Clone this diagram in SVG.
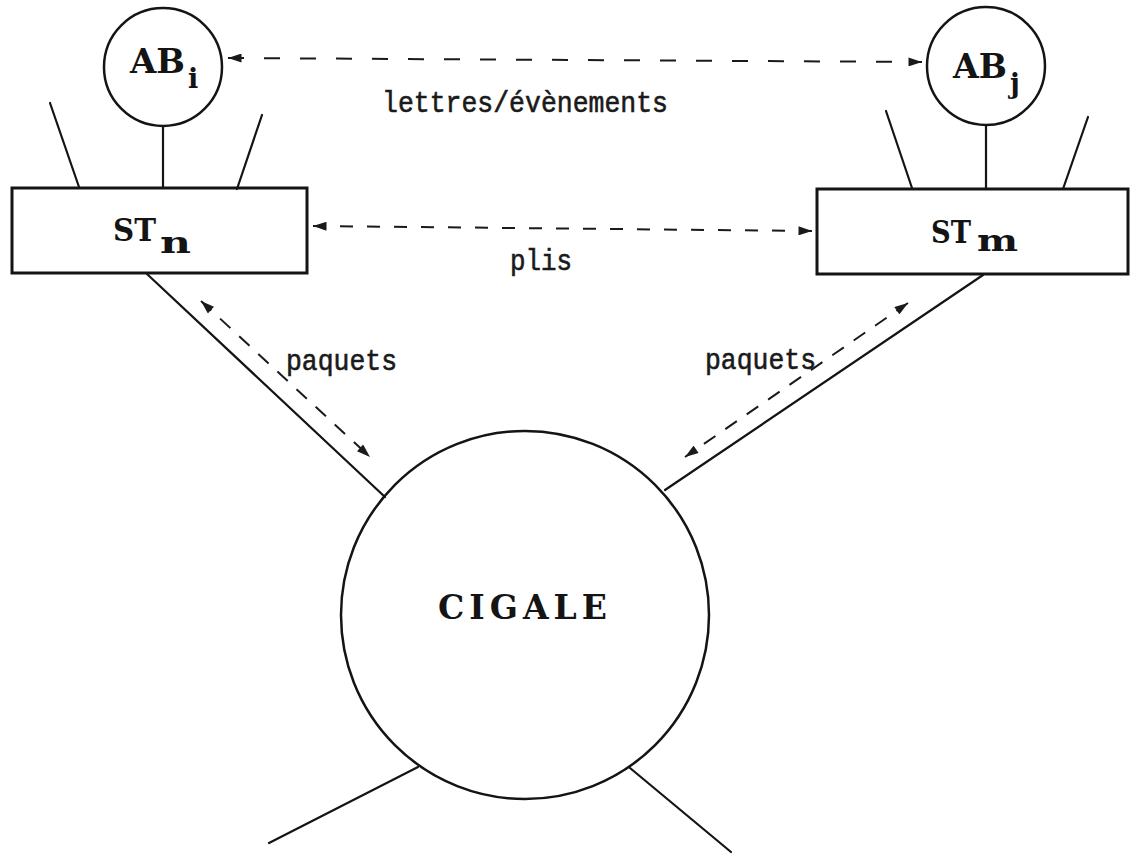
<svg xmlns="http://www.w3.org/2000/svg" width="1131" height="858" viewBox="0 0 1131 858">
<style>
.shape{fill:none;stroke:#141414;stroke-width:2.5}
.box{fill:none;stroke:#141414;stroke-width:3}
.line{fill:none;stroke:#141414;stroke-width:2.2;stroke-linecap:round}
.dash{fill:none;stroke:#1a1a1a;stroke-width:2}
.lbl{font-family:"DejaVu Serif","Liberation Serif",serif;font-weight:bold;fill:#141414}
.tt{font-family:"Liberation Mono","Courier New",monospace;font-size:29px;fill:#1a1a1a;stroke:#1a1a1a;stroke-width:0.6}
</style>
<defs>
<marker id="ah" viewBox="0 0 15 10" refX="15" refY="5" markerWidth="15" markerHeight="9" markerUnits="userSpaceOnUse" orient="auto-start-reverse">
<path d="M0,0 L15,5 L0,10 z" fill="#1a1a1a"/>
</marker>
</defs>
<rect width="1131" height="858" fill="#ffffff"/>

<g id="connectors">
<line class="line" x1="163" y1="127" x2="163" y2="188"/>
<line class="line" x1="50" y1="103" x2="79" y2="187"/>
<line class="line" x1="262" y1="115" x2="237" y2="189"/>
<line class="line" x1="986" y1="125" x2="986" y2="189"/>
<line class="line" x1="886" y1="111" x2="912" y2="188"/>
<line class="line" x1="1088" y1="117" x2="1063" y2="189"/>
<line class="line" x1="147" y1="274" x2="385" y2="497"/>
<line class="line" x1="983" y1="275" x2="665" y2="490"/>
<line class="line" x1="418" y1="767" x2="269" y2="843"/>
<line class="line" x1="630" y1="768" x2="731" y2="852"/>
<line class="dash" x1="228" y1="58" x2="922" y2="62" stroke-dasharray="16 20" marker-start="url(#ah)" marker-end="url(#ah)"/>
<line class="dash" x1="313" y1="226" x2="812" y2="231" stroke-dasharray="13 14" marker-start="url(#ah)" marker-end="url(#ah)"/>
<line class="dash" x1="201" y1="301" x2="370" y2="457" stroke-dasharray="14 12" marker-start="url(#ah)" marker-end="url(#ah)"/>
<line class="dash" x1="908" y1="303" x2="685" y2="457" stroke-dasharray="14 12" marker-start="url(#ah)" marker-end="url(#ah)"/>
<text class="tt" x="382" y="112" textLength="286" lengthAdjust="spacingAndGlyphs">lettres/évènements</text>
<text class="tt" x="510" y="270" textLength="62" lengthAdjust="spacingAndGlyphs">plis</text>
<text class="tt" x="286" y="370" textLength="111" lengthAdjust="spacingAndGlyphs">paquets</text>
<text class="tt" x="705" y="369" textLength="111" lengthAdjust="spacingAndGlyphs">paquets</text>
</g>

<g id="ABi">
<circle class="shape" cx="163" cy="67" r="59"/>
<text class="lbl" x="130" y="73" font-size="33" textLength="55" lengthAdjust="spacingAndGlyphs">AB</text>
<text class="lbl" x="188" y="88" font-size="27">i</text>
</g>

<g id="ABj">
<circle class="shape" cx="986" cy="66" r="59"/>
<text class="lbl" x="953" y="78" font-size="33" textLength="54" lengthAdjust="spacingAndGlyphs">AB</text>
<text class="lbl" x="1010" y="93" font-size="27">j</text>
</g>

<g id="STn">
<rect class="box" x="12" y="188" width="295" height="85"/>
<text class="lbl" x="113" y="241" font-size="32" textLength="43" lengthAdjust="spacingAndGlyphs">ST</text>
<text class="lbl" x="160" y="253" font-size="29" textLength="31" lengthAdjust="spacingAndGlyphs">n</text>
</g>

<g id="STm">
<rect class="box" x="817" y="189" width="311" height="85"/>
<text class="lbl" x="931" y="243" font-size="32" textLength="40" lengthAdjust="spacingAndGlyphs">ST</text>
<text class="lbl" x="977" y="251" font-size="29" textLength="41" lengthAdjust="spacingAndGlyphs">m</text>
</g>

<g id="CIGALE">
<circle class="shape" cx="525" cy="615" r="184"/>
<text class="lbl" x="438" y="619" font-size="33" textLength="169" lengthAdjust="spacing">CIGALE</text>
</g>
</svg>
